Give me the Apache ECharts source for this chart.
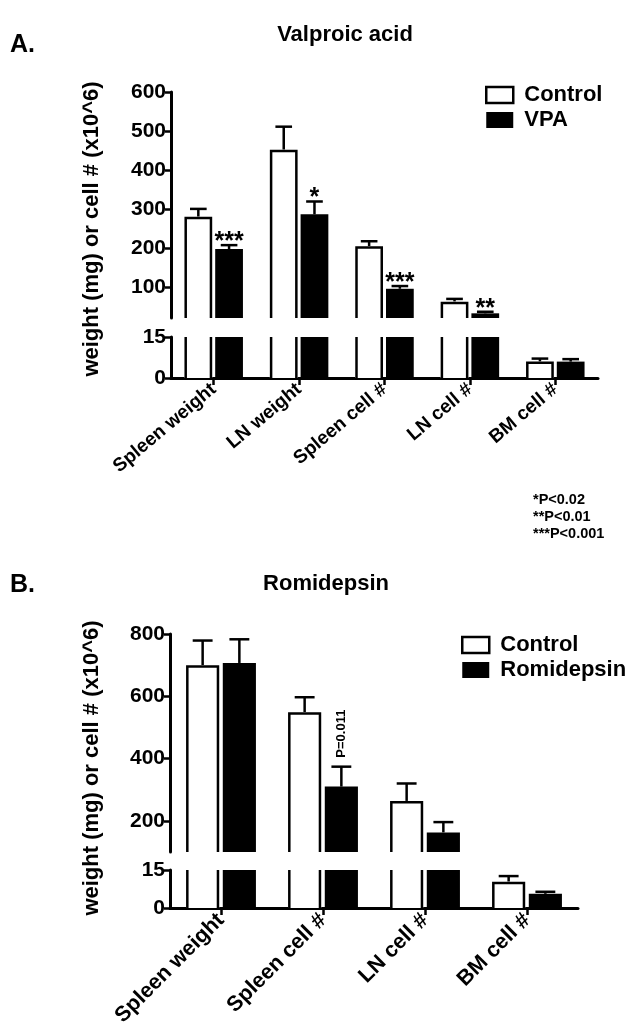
<!DOCTYPE html>
<html><head><meta charset="utf-8">
<script src="https://cdn.jsdelivr.net/npm/echarts@6/dist/echarts.min.js"></script>
<style>html,body{margin:0;padding:0;background:#fff}#c{width:637px;height:1035px}</style>
</head><body><div id="c"></div><script>
// ---------- data ----------
const catsA = ['Spleen weight', 'LN weight', 'Spleen cell #', 'LN cell #', 'BM cell #'];
const ctrlA = [280, 452, 204, 62, 6.0];
const ctrlAErr = [20, 59, 13, 7, 1.1];
const vpaA = [197, 286, 95, 32, 6.0];
const vpaAErr = [10, 33, 7, 4, 0.9];
const sigA = ['***', '*', '***', '**', ''];
const footA = ['*P<0.02', '**P<0.01', '***P<0.001'];

const catsB = ['Spleen weight', 'Spleen cell #', 'LN cell #', 'BM cell #'];
const ctrlB = [700, 549, 264, 10.4];
const ctrlBErr = [79, 48, 56, 2.2];
const romiB = [707, 310, 163, 5.6];
const romiBErr = [76, 64, 33, 0.8];
const pB = ['', 'P=0.011', '', ''];

const yTitle = 'weight (mg) or cell # (x10^6)';
// ---------- styling ----------
const FF = 'Liberation Sans, Arial, Helvetica, sans-serif';
const BAR_FRAC = 0.325, GAP_FRAC = 0.035, LW = 2.5;

function render(labels, mode, filled, side) {
  return function (params, api) {
    const i = api.value(0), v = api.value(1), e = api.value(2);
    const cs = params.coordSys;
    const band = api.size([1, 0])[0];
    const w = band * BAR_FRAC, g = band * GAP_FRAC;
    const cx = api.coord([i, 0])[0] + side * (w + g) / 2;
    const xl = cx - w / 2, xr = cx + w / 2;
    const yTop = api.coord([i, v])[1];
    const yBase = api.coord([i, 0])[1];
    const top = Math.max(yTop, cs.y), base = Math.min(yBase, cs.y + cs.height);
    const ch = [];
    const ls = { stroke: '#000', lineWidth: LW, fill: null };
    const yErr = api.coord([i, v + e])[1];
    const inside = yTop >= cs.y - 0.5 && yTop <= cs.y + cs.height + 0.5;
    if (inside) {
      const capHalf = w * 0.3;
      ch.push({ type: 'line', shape: { x1: cx, y1: yTop, x2: cx, y2: yErr }, style: ls });
      ch.push({ type: 'line', shape: { x1: cx - capHalf, y1: yErr, x2: cx + capHalf, y2: yErr }, style: ls });
    }
    if (top < base) {
      if (filled) {
        ch.push({ type: 'rect', shape: { x: xl, y: top, width: w, height: base - top }, style: { fill: '#000' } });
      } else {
        const a = xl + LW / 2, b = xr - LW / 2;
        ch.push({ type: 'rect', shape: { x: xl, y: top, width: w, height: base - top }, style: { fill: '#fff' } });
        if (yTop >= cs.y) {
          const t = top + LW / 2;
          ch.push({ type: 'polyline', shape: { points: [[a, base], [a, t], [b, t], [b, base]] }, style: ls });
        } else {
          ch.push({ type: 'line', shape: { x1: a, y1: base, x2: a, y2: top }, style: ls });
          ch.push({ type: 'line', shape: { x1: b, y1: base, x2: b, y2: top }, style: ls });
        }
      }
    }
    const lab = labels ? labels[params.dataIndex] : '';
    if (inside && lab) {
      if (mode === 'h') {
        ch.push({ type: 'text', x: cx, y: yErr - 3, style: { text: lab, align: 'center', verticalAlign: 'middle', fontSize: 25, fontWeight: 'bold', fontFamily: FF, fill: '#000' } });
      } else {
        ch.push({ type: 'text', x: cx, y: yErr - 9, rotation: Math.PI / 2, style: { text: lab, align: 'left', verticalAlign: 'middle', fontSize: 13, fontWeight: 'bold', fontFamily: FF, fill: '#000' } });
      }
    }
    return { type: 'group', children: ch };
  };
}

function series(name, vals, errs, gridIdx, labels, mode, filled, side) {
  return {
    type: 'custom', name: name, xAxisIndex: gridIdx, yAxisIndex: gridIdx,
    data: vals.map((v, i) => [i, v, errs[i]]),
    encode: { x: 0, y: 1 },
    itemStyle: filled ? { color: '#000' } : { color: '#fff', borderColor: '#000', borderWidth: LW },
    renderItem: render(labels, mode, filled, side),
    silent: true
  };
}

const axisLineStyle = { lineStyle: { color: '#000', width: 3 } };
const yLabel = { color: '#000', fontSize: 21, fontWeight: 'bold', fontFamily: FF, margin: 5 };

function xAxisCfg(grid, cats, show, rot, fs) {
  return {
    type: 'category', gridIndex: grid, data: cats, show: show,
    axisLine: { show: true, lineStyle: { color: '#000', width: 3 } },
    axisTick: { show: true, alignWithLabel: true, length: 7, lineStyle: { color: '#000', width: 2.5 } },
    axisLabel: { interval: 0, rotate: rot, margin: 9, color: '#000', fontSize: fs, fontWeight: 'bold', fontFamily: FF },
    splitLine: { show: false }
  };
}
function yAxisCfg(grid, min, max, opts) {
  return Object.assign({
    type: 'value', gridIndex: grid, min: min, max: max,
    axisLine: Object.assign({ show: true }, axisLineStyle),
    axisTick: { show: true, length: 6, lineStyle: { color: '#000', width: 2.5 } },
    axisLabel: yLabel,
    splitLine: { show: false }
  }, opts);
}

const legendText = { color: '#000', fontSize: 22, fontWeight: 'bold', fontFamily: FF, padding: [0, 0, 0, 6] };
const ctrlIcon = { name: 'Control', icon: 'rect', itemStyle: { color: '#fff', borderColor: '#000', borderWidth: LW } };

const option = {
  animation: false,
  backgroundColor: '#fff',
  textStyle: { fontFamily: FF },
  grid: [
    { left: 171, width: 427, top: 92, height: 226 },
    { left: 171, width: 427, top: 337, height: 41 },
    { left: 170, width: 408, top: 634, height: 218 },
    { left: 170, width: 408, top: 870, height: 38 }
  ],
  xAxis: [
    xAxisCfg(0, catsA, false, 40, 19), xAxisCfg(1, catsA, true, 40, 19),
    xAxisCfg(2, catsB, false, 45, 21.5), xAxisCfg(3, catsB, true, 45, 21.5)
  ],
  yAxis: [
    yAxisCfg(0, 20, 600, { splitNumber: 5, axisLabel: Object.assign({ showMinLabel: false }, yLabel) }),
    yAxisCfg(1, 0, 15, { interval: 15 }),
    yAxisCfg(2, 100, 800, { splitNumber: 3, axisLabel: Object.assign({ showMinLabel: false }, yLabel) }),
    yAxisCfg(3, 0, 15, { interval: 15 })
  ],
  legend: [
    {
      data: [ctrlIcon, { name: 'VPA', icon: 'rect', itemStyle: { color: '#000' } }],
      orient: 'vertical', left: 485, top: 84, padding: 0, itemWidth: 27, itemHeight: 16, itemGap: 3,
      textStyle: legendText, selectedMode: false
    },
    {
      data: [ctrlIcon, { name: 'Romidepsin', icon: 'rect', itemStyle: { color: '#000' } }],
      orient: 'vertical', left: 461, top: 634, padding: 0, itemWidth: 27, itemHeight: 16, itemGap: 3,
      textStyle: legendText, selectedMode: false
    }
  ],
  series: [
    series('Control', ctrlA, ctrlAErr, 0, null, 'h', false, -1),
    series('VPA', vpaA, vpaAErr, 0, sigA, 'h', true, 1),
    series('Control', ctrlA, ctrlAErr, 1, null, 'h', false, -1),
    series('VPA', vpaA, vpaAErr, 1, sigA, 'h', true, 1),
    series('Control', ctrlB, ctrlBErr, 2, null, 'v', false, -1),
    series('Romidepsin', romiB, romiBErr, 2, pB, 'v', true, 1),
    series('Control', ctrlB, ctrlBErr, 3, null, 'v', false, -1),
    series('Romidepsin', romiB, romiBErr, 3, pB, 'v', true, 1)
  ],
  graphic: [
    { type: 'text', x: 10, y: 45, style: { text: 'A.', fontSize: 25, fontWeight: 'bold', fontFamily: FF, fill: '#000', verticalAlign: 'middle' } },
    { type: 'text', x: 345, y: 35, style: { text: 'Valproic acid', align: 'center', verticalAlign: 'middle', fontSize: 22, fontWeight: 'bold', fontFamily: FF, fill: '#000' } },
    { type: 'text', x: 92, y: 229, rotation: Math.PI / 2, style: { text: yTitle, align: 'center', verticalAlign: 'middle', fontSize: 22, fontWeight: 'bold', fontFamily: FF, fill: '#000' } },
    { type: 'text', x: 533, y: 500, style: { text: footA[0], verticalAlign: 'middle', fontSize: 14.5, fontWeight: 'bold', fontFamily: FF, fill: '#000' } },
    { type: 'text', x: 533, y: 517, style: { text: footA[1], verticalAlign: 'middle', fontSize: 14.5, fontWeight: 'bold', fontFamily: FF, fill: '#000' } },
    { type: 'text', x: 533, y: 534, style: { text: footA[2], verticalAlign: 'middle', fontSize: 14.5, fontWeight: 'bold', fontFamily: FF, fill: '#000' } },
    { type: 'text', x: 10, y: 585, style: { text: 'B.', fontSize: 25, fontWeight: 'bold', fontFamily: FF, fill: '#000', verticalAlign: 'middle' } },
    { type: 'text', x: 326, y: 584, style: { text: 'Romidepsin', align: 'center', verticalAlign: 'middle', fontSize: 22, fontWeight: 'bold', fontFamily: FF, fill: '#000' } },
    { type: 'text', x: 92, y: 768, rotation: Math.PI / 2, style: { text: yTitle, align: 'center', verticalAlign: 'middle', fontSize: 22, fontWeight: 'bold', fontFamily: FF, fill: '#000' } }
  ]
};
const chart = echarts.init(document.getElementById('c'), null, { renderer: 'canvas' });
chart.setOption(option);
</script></body></html>
